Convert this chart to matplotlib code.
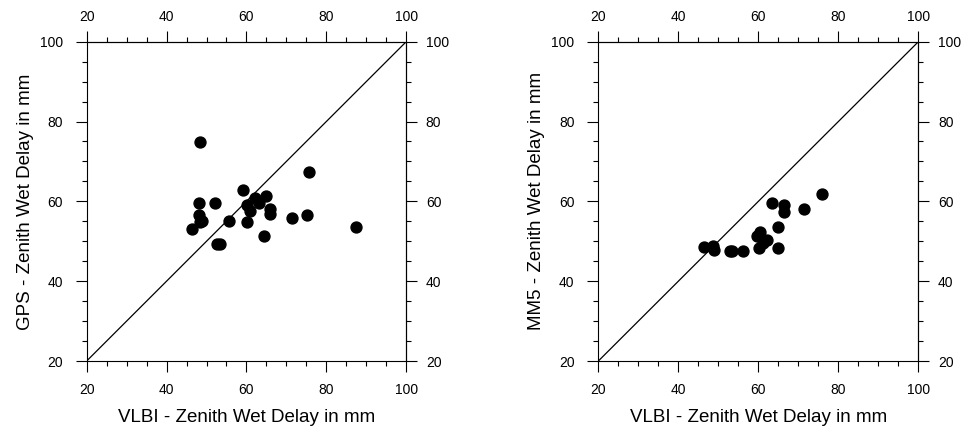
import matplotlib.pyplot as plt
from matplotlib.text import Text
from matplotlib.ticker import MultipleLocator

plt.rcParams['font.family'] = ['Liberation Sans', 'DejaVu Sans']

# VLBI vs GPS zenith wet delay (mm)
vlbi_gps = [48.4, 75.6, 59.2, 48.0, 52.1, 62.1, 64.8, 60.2, 63.2, 65.9, 65.9, 60.9,
            48.1, 48.4, 48.9, 55.7, 60.1, 71.3, 75.2, 46.3, 87.5, 64.4, 52.6, 53.4]
gps = [74.9, 67.3, 62.9, 59.6, 59.7, 60.9, 61.4, 59.2, 59.5, 58.1, 56.9, 57.6,
       56.7, 54.9, 55.2, 55.2, 54.8, 55.9, 56.5, 53.0, 53.5, 51.4, 49.4, 49.2]

# VLBI vs MM5 zenith wet delay (mm)
vlbi_mm5 = [75.9, 63.4, 66.4, 66.4, 71.5, 65.0, 60.3, 59.7, 62.2, 61.1, 60.2, 65.0,
            46.5, 48.6, 49.0, 52.8, 53.5, 56.1]
mm5 = [61.9, 59.5, 59.1, 57.3, 58.1, 53.5, 52.2, 51.4, 50.3, 49.6, 48.2, 48.2,
       48.6, 48.8, 47.9, 47.5, 47.5, 47.5]

fig = plt.figure(figsize=(9.64, 4.28), dpi=100)
ax1 = fig.add_axes([0.0899, 0.1565, 0.3315, 0.7461])
ax2 = fig.add_axes([0.6207, 0.1565, 0.3320, 0.7461])


def set_ticks(axis):
    axis.set_major_locator(MultipleLocator(20))
    axis.set_minor_locator(MultipleLocator(5))


def style(ax, x, y, ylabel):
    ax.plot([20, 100], [20, 100], color='black', linewidth=0.9)
    ax.scatter(x, y, s=62, color='black', zorder=3, clip_on=False)
    ax.set_xlim(20, 100)
    ax.set_ylim(20, 100)
    set_ticks(ax.xaxis)
    set_ticks(ax.yaxis)
    ax.tick_params(which='both', direction='out', width=0.8, labelsize=10)
    ax.tick_params(which='major', length=7.6)
    ax.tick_params(which='minor', length=3.8)
    ax.tick_params(axis='x', which='major', pad=8.3)
    ax.tick_params(axis='y', which='major', pad=9.5)
    for sp in ax.spines.values():
        sp.set_linewidth(0.8)

    # top and right axes carry the same scale
    top = ax.secondary_xaxis('top')
    right = ax.secondary_yaxis('right')
    set_ticks(top.xaxis)
    set_ticks(right.yaxis)
    for sec, p in ((top, 5.2), (right, 6.5)):
        sec.tick_params(which='both', direction='out', width=0.8, labelsize=10)
        sec.tick_params(which='major', length=7.6, pad=p)
        sec.tick_params(which='minor', length=3.8)
        for sp in sec.spines.values():
            sp.set_linewidth(0.8)

    ax.set_xlabel('VLBI - Zenith Wet Delay in mm', fontsize=13.5, labelpad=8.3)
    ax.set_ylabel(ylabel, fontsize=13.5, labelpad=4.5)


style(ax1, vlbi_gps, gps, 'GPS - Zenith Wet Delay in mm')
style(ax2, vlbi_mm5, mm5, 'MM5 - Zenith Wet Delay in mm')

# draw once so tick labels get their text, then hide the empty
# titles / labels that the secondary axes bring along
fig.canvas.draw()
for t in fig.findobj(Text):
    if not t.get_text():
        t.set_visible(False)

fig.savefig('out.png', dpi=100)
